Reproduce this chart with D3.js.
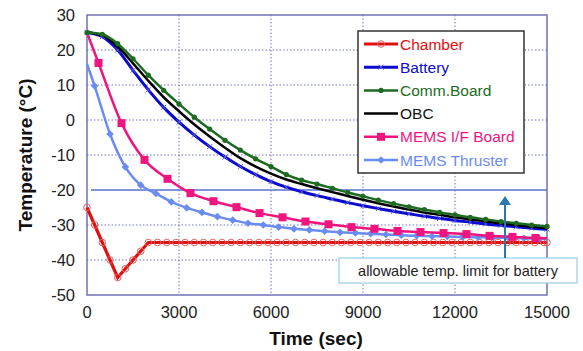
<!DOCTYPE html>
<html>
<head>
<meta charset="utf-8">
<script src="https://cdn.jsdelivr.net/npm/d3@7"></script>
<style>
  body { margin: 0; background: #fff; }
  svg { display: block; font-family: "Liberation Sans", Arial, sans-serif; }
</style>
</head>
<body>
<svg id="chart"></svg>
<script>
// time grid used by the slow-cooling parts (sec)
let t500 = [0,500,1000,1500,2000,2500,3000,3500,4000,4500,5000,5500,6000,6500,7000,7500,
            8000,8500,9000,9500,10000,10500,11000,11500,12000,12500,13000,13500,14000,14500,15000];

let chamberTime = [0,250,500,750,1000,1250,1500,1750,2000,2300,2600,2900,3200,3500,3800,4100,4400,
                   4700,5000,5300,5600,5900,6200,6500,6800,7100,7400,7700,8000,8300,8600,8900,9200,
                   9500,9800,10100,10400,10700,11000,11300,11600,11900,12200,12500,12800,13100,13400,
                   13700,14000,14300,14600,14900,15000];
let chamberTemp = [-25,-30,-35,-40,-45,-42.5,-40,-37.5,-35,-35,-35,-35,-35,-35,-35,-35,-35,
                   -35,-35,-35,-35,-35,-35,-35,-35,-35,-35,-35,-35,-35,-35,-35,-35,
                   -35,-35,-35,-35,-35,-35,-35,-35,-35,-35,-35,-35,-35,-35,
                   -35,-35,-35,-35,-35,-35];

let batteryTemp = [25,23.8,20,14.2,8.6,3.6,-0.6,-4.3,-7.6,-10.6,-13.3,-15.6,-17.6,-19.2,-20.5,-21.6,
                   -22.6,-23.6,-24.5,-25.3,-26.1,-26.8,-27.5,-28.1,-28.7,-29.2,-29.7,-30.1,-30.5,-30.9,-31.2];
let commTemp = [25,24.5,21.8,17.5,12.8,8.5,4.6,0.8,-2.6,-5.8,-8.6,-11.1,-13.3,-15.6,-17.2,-18.3,
                -19.5,-20.7,-21.8,-22.9,-23.9,-24.8,-25.6,-26.4,-27.1,-27.8,-28.4,-29,-29.5,-30,-30.4];
let obcTemp = [25,24.2,21,16.2,11.2,6.5,2.5,-1.3,-4.7,-7.9,-10.9,-13.3,-15.3,-17,-18.3,-19.5,
               -20.6,-21.7,-22.8,-23.8,-24.7,-25.6,-26.4,-27.1,-27.8,-28.4,-29,-29.5,-30,-30.5,-30.9];

let ifBoardTime = [0,375,1125,1875,2625,3375,4125,4875,5625,6375,7125,7875,8625,9375,10125,10875,
                   11625,12375,13125,13875,14625,15000];
let ifBoardTemp = [25,16.3,-0.9,-11.4,-16.8,-20.9,-23.2,-24.9,-26.6,-27.8,-29,-29.8,-30.6,-31.1,-31.7,-32,
                   -32.3,-32.6,-33.1,-33.4,-33.7,-33.8];

let thrusterTime = [0,250,750,1250,1750,2250,2750,3250,3750,4250,4750,5250,5750,6250,6750,7250,7750,
                    8250,8750,9250,9750,10250,10750,11250,11750,12250,12750,13250,13750,14250,14750,15000];
let thrusterTemp = [16,9.7,-4,-13.4,-18.6,-21,-23.4,-25.1,-26.4,-27.6,-28.6,-29.5,-30,-30.6,-31.1,-31.4,-31.8,
                    -32.1,-32.3,-32.5,-32.7,-32.9,-33.1,-33.2,-33.3,-33.4,-33.5,-33.6,-33.7,-33.8,-33.9,-34];

let xTicks = [0,3000,6000,9000,12000,15000];
let yTicks = [30,20,10,0,-10,-20,-30,-40,-50];
let limitTemp = -20;

let W = 583, H = 351;
let svg = d3.select("#chart").attr("width", W).attr("height", H);

let x = d3.scaleLinear().domain([0, 15000]).range([87, 547]);
let y = d3.scaleLinear().domain([-50, 30]).range([295, 15]);

function pairs(ts, vs) { return ts.map((t, i) => ({t: t, v: vs[i]})); }

// ends = whether the first/last point carries a marker
let series = [
  {name: "Chamber", color: "#e01010", width: 3.2, data: pairs(chamberTime, chamberTemp), mark: "ocircle", ends: true, curve: d3.curveLinear},
  {name: "Battery", color: "#0a0ad0", width: 3, data: pairs(t500, batteryTemp), mark: "x", ends: true, curve: d3.curveMonotoneX},
  {name: "Comm.Board", color: "#1d6b22", width: 2.5, data: pairs(t500, commTemp), mark: "dot", ends: true, curve: d3.curveMonotoneX},
  {name: "OBC", color: "#000000", width: 2.5, data: pairs(t500, obcTemp), mark: null, ends: false, curve: d3.curveMonotoneX},
  {name: "MEMS I/F Board", color: "#f0147f", width: 2.5, data: pairs(ifBoardTime, ifBoardTemp), mark: "square", ends: false, curve: d3.curveMonotoneX},
  {name: "MEMS Thruster", color: "#6a8cf0", width: 2.5, data: pairs(thrusterTime, thrusterTemp), mark: "diamond", ends: false, curve: d3.curveMonotoneX}
];

// Grid.
let grid = svg.append("g");
grid.selectAll("line.gx").data(xTicks.slice(1, -1)).join("line")
  .attr("x1", d => x(d)).attr("x2", d => x(d))
  .attr("y1", y(30)).attr("y2", y(-50))
  .attr("stroke", "#6f6fc8").attr("stroke-width", 1).attr("stroke-dasharray", "1.5,2");
grid.selectAll("line.gy").data(yTicks.slice(1, -1).filter(d => d != limitTemp)).join("line")
  .attr("x1", x(0)).attr("x2", x(15000))
  .attr("y1", d => y(d)).attr("y2", d => y(d))
  .attr("stroke", "#6f6fc8").attr("stroke-width", 1).attr("stroke-dasharray", "1.5,2");

// Allowable limit line.
svg.append("line")
  .attr("x1", x(0) + 4).attr("x2", x(15000))
  .attr("y1", y(limitTemp)).attr("y2", y(limitTemp))
  .attr("stroke", "#5d6fd2").attr("stroke-width", 1.6);

// Plot border.
svg.append("rect")
  .attr("x", x(0)).attr("y", y(30))
  .attr("width", x(15000) - x(0)).attr("height", y(-50) - y(30))
  .attr("fill", "none").attr("stroke", "#7070b8").attr("stroke-width", 1.5);

// Tick labels.
svg.append("g").selectAll("text").data(yTicks).join("text")
  .attr("x", 75).attr("y", d => y(d)).attr("dy", "0.36em")
  .attr("text-anchor", "end").attr("font-size", 16.5).attr("fill", "#222")
  .text(d => d);
svg.append("g").selectAll("text").data(xTicks).join("text")
  .attr("x", d => x(d)).attr("y", 318)
  .attr("text-anchor", "middle").attr("font-size", 16.5).attr("fill", "#222")
  .text(d => d);

// Axis titles.
svg.append("text")
  .attr("x", 316).attr("y", 345)
  .attr("text-anchor", "middle").attr("font-size", 19).attr("font-weight", "bold").attr("fill", "#111")
  .text("Time (sec)");
svg.append("text")
  .attr("transform", "translate(32,155) rotate(-90)")
  .attr("text-anchor", "middle").attr("font-size", 19).attr("font-weight", "bold").attr("fill", "#111")
  .text("Temperature (°C)");

// Lines and markers.
function drawMark(g, kind, color, cx, cy) {
  if (kind == "ocircle") {
    g.append("circle").attr("cx", cx).attr("cy", cy).attr("r", 3.3)
      .attr("fill", "none").attr("stroke", "#e06060").attr("stroke-width", 1);
  } else if (kind == "x") {
    g.append("path").attr("d", `M${cx-2.5},${cy-2.5}L${cx+2.5},${cy+2.5}M${cx-2.5},${cy+2.5}L${cx+2.5},${cy-2.5}`)
      .attr("stroke", "#5b5bd8").attr("stroke-width", 1);
  } else if (kind == "dot") {
    g.append("circle").attr("cx", cx).attr("cy", cy).attr("r", 2.6).attr("fill", color);
  } else if (kind == "square") {
    g.append("rect").attr("x", cx - 4).attr("y", cy - 4).attr("width", 8).attr("height", 8).attr("fill", color);
  } else if (kind == "diamond") {
    g.append("path").attr("d", `M${cx},${cy-3.8}L${cx+3.8},${cy}L${cx},${cy+3.8}L${cx-3.8},${cy}Z`).attr("fill", color);
  }
}

let order = [0, 5, 4, 1, 3, 2];
order.forEach(i => {
  let s = series[i];
  let line = d3.line().x(d => x(d.t)).y(d => y(d.v)).curve(s.curve);
  let g = svg.append("g");
  g.append("path").attr("d", line(s.data))
    .attr("fill", "none").attr("stroke", s.color).attr("stroke-width", s.width);
  if (s.mark) {
    let pts = s.ends ? s.data : s.data.slice(1, -1);
    pts.forEach(d => drawMark(g, s.mark, s.color, x(d.t), y(d.v)));
  }
});

// Legend.
let lg = svg.append("g");
lg.append("rect").attr("x", 358).attr("y", 31).attr("width", 166).attr("height", 142)
  .attr("fill", "#fff").attr("stroke", "#333").attr("stroke-width", 1.5);
series.forEach((s, i) => {
  let ly = 44 + i * 23.2;
  lg.append("line").attr("x1", 364).attr("x2", 398).attr("y1", ly).attr("y2", ly)
    .attr("stroke", s.color).attr("stroke-width", s.width);
  if (s.mark) drawMark(lg, s.mark, s.color, 381, ly);
  lg.append("text").attr("x", 400).attr("y", ly).attr("dy", "0.36em")
    .attr("font-size", 15.5).attr("fill", s.color == "#000000" ? "#111" : s.color)
    .text(s.name);
});

// Annotation for the battery limit.
svg.append("rect").attr("x", 339).attr("y", 258).attr("width", 238).attr("height", 25)
  .attr("fill", "#fff").attr("stroke", "#96cfe4").attr("stroke-width", 1.2);
svg.append("text").attr("x", 458).attr("y", 271).attr("dy", "0.36em")
  .attr("text-anchor", "middle").attr("font-size", 14.5).attr("fill", "#222")
  .text("allowable temp. limit for battery");
svg.append("line").attr("x1", 505).attr("x2", 505).attr("y1", 258).attr("y2", 203)
  .attr("stroke", "#2a78b0").attr("stroke-width", 2);
svg.append("path").attr("d", "M499,205L505,196L511,205Z").attr("fill", "#2a78b0");
</script>
</body>
</html>
